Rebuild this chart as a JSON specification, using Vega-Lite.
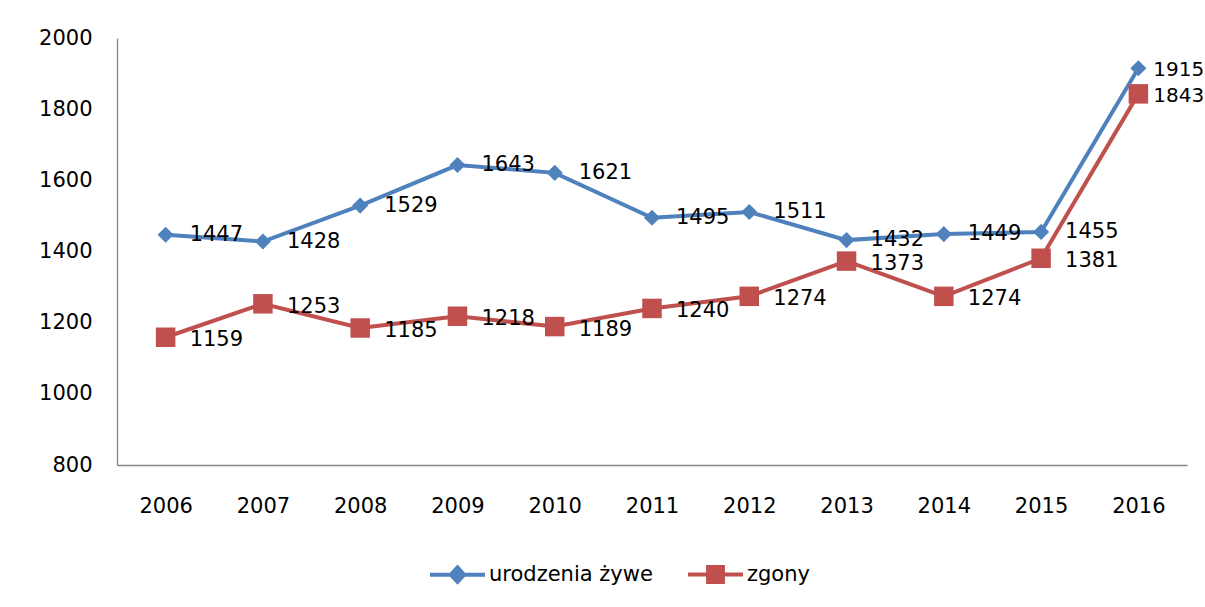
{
  "$schema": "https://vega.github.io/schema/vega-lite/v6.json",
  "autosize": "none",
  "width": 1070,
  "height": 427,
  "padding": {"left": 117, "top": 38, "right": 18, "bottom": 142},
  "background": "white",
  "config": {
    "view": {"stroke": null},
    "font": "DejaVu Sans",
    "axis": {"labelFont": "DejaVu Sans", "labelFontSize": 21, "labelColor": "#000000", "grid": false, "ticks": false, "domainColor": "#868686", "domainWidth": 1.3, "title": null}
  },
  "data": {
    "values": [
      {"year": "2006", "series": "urodzenia żywe", "value": 1447},
      {"year": "2007", "series": "urodzenia żywe", "value": 1428},
      {"year": "2008", "series": "urodzenia żywe", "value": 1529},
      {"year": "2009", "series": "urodzenia żywe", "value": 1643},
      {"year": "2010", "series": "urodzenia żywe", "value": 1621},
      {"year": "2011", "series": "urodzenia żywe", "value": 1495},
      {"year": "2012", "series": "urodzenia żywe", "value": 1511},
      {"year": "2013", "series": "urodzenia żywe", "value": 1432},
      {"year": "2014", "series": "urodzenia żywe", "value": 1449},
      {"year": "2015", "series": "urodzenia żywe", "value": 1455},
      {"year": "2016", "series": "urodzenia żywe", "value": 1915},
      {"year": "2006", "series": "zgony", "value": 1159},
      {"year": "2007", "series": "zgony", "value": 1253},
      {"year": "2008", "series": "zgony", "value": 1185},
      {"year": "2009", "series": "zgony", "value": 1218},
      {"year": "2010", "series": "zgony", "value": 1189},
      {"year": "2011", "series": "zgony", "value": 1240},
      {"year": "2012", "series": "zgony", "value": 1274},
      {"year": "2013", "series": "zgony", "value": 1373},
      {"year": "2014", "series": "zgony", "value": 1274},
      {"year": "2015", "series": "zgony", "value": 1381},
      {"year": "2016", "series": "zgony", "value": 1843}
    ]
  },
  "encoding": {
    "x": {"field": "year", "type": "ordinal", "scale": {"type": "point", "padding": 0.5},
          "axis": {"labelAngle": 0, "labelPadding": 30}},
    "y": {"field": "value", "type": "quantitative", "scale": {"domain": [800, 2000], "nice": false, "zero": false},
          "axis": {"values": [800, 1000, 1200, 1400, 1600, 1800, 2000], "format": "d", "labelPadding": 25}}
  },
  "layer": [
    {
      "mark": {"type": "line", "strokeWidth": 4},
      "encoding": {
        "color": {"field": "series", "type": "nominal",
          "scale": {"domain": ["urodzenia żywe", "zgony"], "range": ["#4F81BD", "#C0504D"]},
          "legend": {
            "title": null, "orient": "none", "direction": "horizontal",
            "legendX": 311, "legendY": 507,
            "labelFont": "DejaVu Sans", "labelFontSize": 21, "labelColor": "#000000", "labelLimit": 0,
            "symbolSize": 3025, "columnPadding": 27, "labelOffset": 2,
            "symbolStrokeWidth": 4,
            "encode": {
              "symbols": {
                "update": {
                  "shape": {"signal": "datum.value === 'zgony' ? 'M-1,0H1M-0.27,-0.27H0.27V0.27H-0.27Z' : 'M-1,0H1M-0.24,0L0,-0.26L0.24,0L0,0.26Z'"},
                  "size": {"value": 3025},
                  "fill": {"signal": "datum.value === 'zgony' ? '#C0504D' : '#4F81BD'"},
                  "stroke": {"signal": "datum.value === 'zgony' ? '#C0504D' : '#4F81BD'"},
                  "strokeWidth": {"value": 4},
                  "strokeOpacity": {"value": 1},
                  "fillOpacity": {"value": 1},
                  "opacity": {"value": 1}
                }
              }
            }
          }
        }
      }
    },
    {
      "transform": [{"filter": "datum.series === 'urodzenia żywe'"}],
      "mark": {"type": "point", "filled": true, "opacity": 1, "shape": "diamond", "size": 260, "color": "#4F81BD"}
    },
    {
      "transform": [{"filter": "datum.series === 'zgony'"}],
      "mark": {"type": "point", "filled": true, "opacity": 1, "shape": "square", "size": 380, "color": "#C0504D"}
    },
    {
      "transform": [{"filter": "datum.year !== '2016' && datum.series === 'urodzenia żywe'"}],
      "mark": {"type": "text", "align": "left", "baseline": "middle", "dx": 24, "dy": 0, "fontSize": 21, "font": "DejaVu Sans", "color": "#000000"},
      "encoding": {
        "text": {"field": "value", "type": "quantitative"}
      }
    },
    {
      "transform": [{"filter": "datum.year !== '2016' && datum.series === 'zgony'"}],
      "mark": {"type": "text", "align": "left", "baseline": "middle", "dx": 24, "dy": 3, "fontSize": 21, "font": "DejaVu Sans", "color": "#000000"},
      "encoding": {
        "text": {"field": "value", "type": "quantitative"}
      }
    },
    {
      "transform": [{"filter": "datum.year === '2016'"}],
      "mark": {"type": "text", "align": "left", "baseline": "middle", "dx": 15, "dy": 2, "fontSize": 20, "font": "DejaVu Sans", "color": "#000000"},
      "encoding": {
        "text": {"field": "value", "type": "quantitative"}
      }
    }
  ]
}
